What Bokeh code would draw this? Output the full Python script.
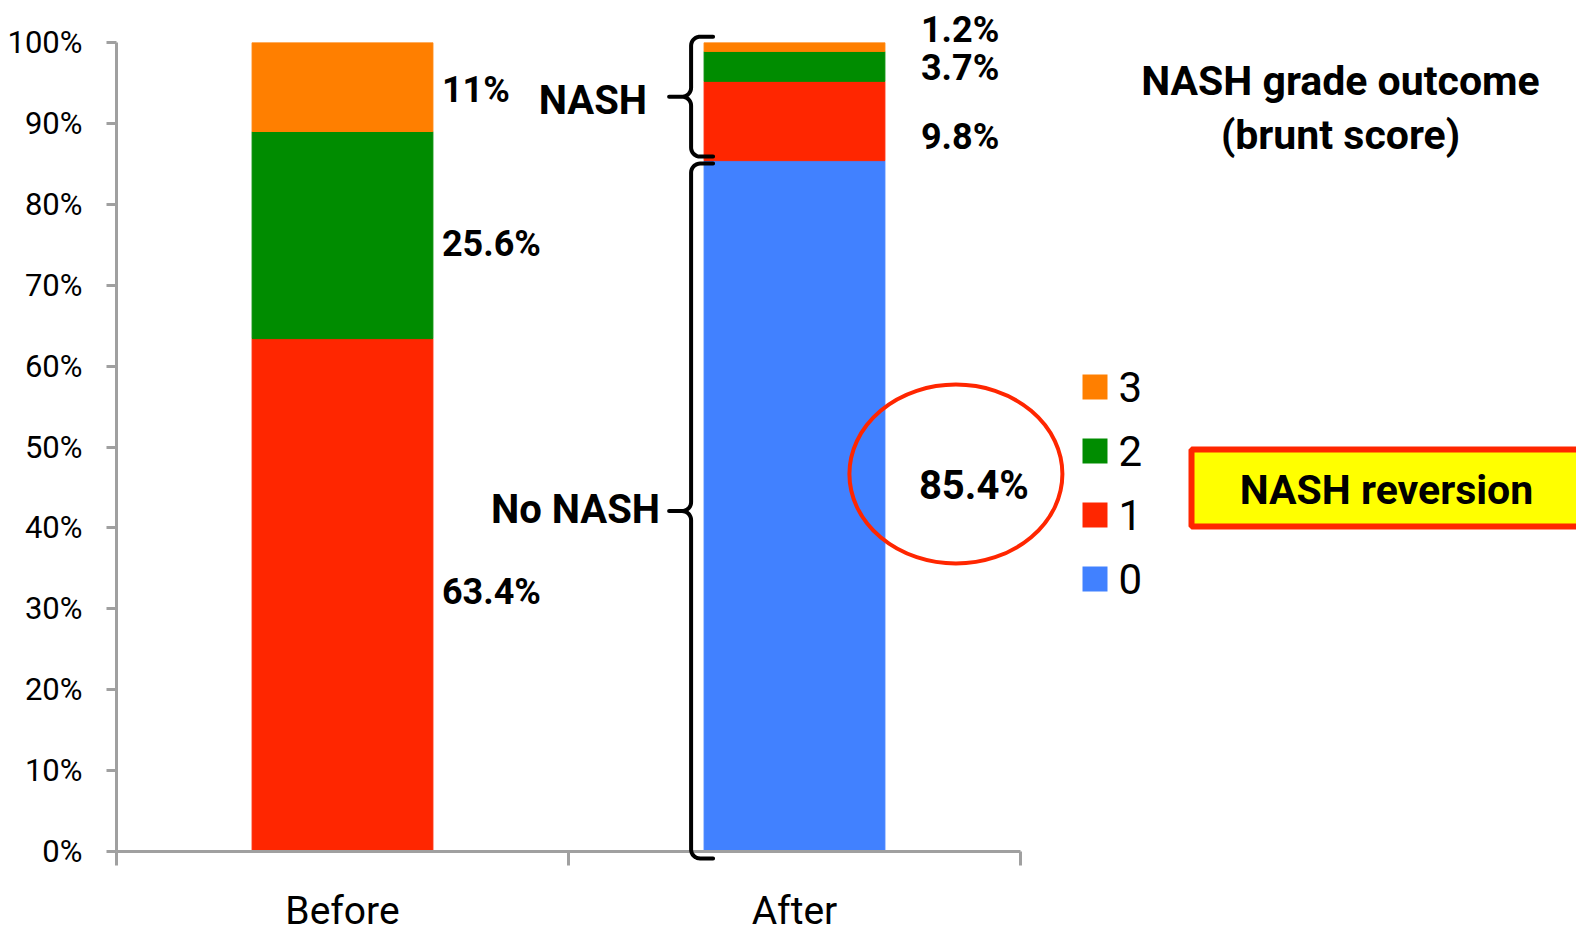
import numpy as np
from bokeh.plotting import figure
from bokeh.models import ColumnDataSource, Range1d, FixedTicker, PrintfTickFormatter
from bokeh.core.properties import value
from bokeh.embed import file_html
from bokeh.resources import INLINE

# ---- data -------------------------------------------------------------
categories = ["Before", "After"]
grade_names = ["0", "1", "2", "3"]
grade_0 = [0.0, 85.4]
grade_1 = [63.4, 9.8]
grade_2 = [25.6, 3.7]
grade_3 = [11.0, 1.2]
y_tick_values = [0, 10, 20, 30, 40, 50, 60, 70, 80, 90, 100]

title_lines = ["NASH grade outcome", "(brunt score)"]
callout_text = "NASH reversion"

# ---- styling ----------------------------------------------------------
grade_colors = ["#4181FF", "#FF2600", "#008C00", "#FF7F00"]
AXIS_GREY = "#A0A0A0"
FONT = "Roboto"

FRAME_LEFT, FRAME_TOP = 116, 42
FRAME_W, FRAME_H = 904, 809
CANVAS_W, CANVAS_H = 1576, 938
FRAME_BOTTOM = FRAME_TOP + FRAME_H
X_START, X_END = -0.5, len(categories) - 0.5
Y_START, Y_END = 0, 100
BAR_WIDTH = 0.4


def to_data_x(px):
    return X_START + (px - FRAME_LEFT) * (X_END - X_START) / FRAME_W


def to_data_y(py):
    return Y_START + (FRAME_BOTTOM - py) * (Y_END - Y_START) / FRAME_H


def to_px_x(x):
    return FRAME_LEFT + (x - X_START) * FRAME_W / (X_END - X_START)


def to_px_y(y):
    return FRAME_BOTTOM - (y - Y_START) * FRAME_H / (Y_END - Y_START)


p = figure(frame_width=FRAME_W, frame_height=FRAME_H,
           min_border_left=FRAME_LEFT, min_border_top=FRAME_TOP,
           min_border_right=CANVAS_W - FRAME_LEFT - FRAME_W,
           min_border_bottom=CANVAS_H - FRAME_BOTTOM,
           x_range=Range1d(X_START, X_END), y_range=Range1d(Y_START, Y_END),
           output_backend="svg", toolbar_location=None,
           outline_line_color=None, background_fill_color="white",
           border_fill_color="white")
p.xgrid.visible = False
p.ygrid.visible = False

# ---- stacked bars -----------------------------------------------------
x_pos = list(range(len(categories)))
src = ColumnDataSource(dict(x=x_pos, **{"0": grade_0, "1": grade_1,
                                        "2": grade_2, "3": grade_3}))
bar_renderers = p.vbar_stack(grade_names, x="x", width=BAR_WIDTH,
                             color=grade_colors, source=src)

# ---- axes -------------------------------------------------------------
xa = p.xaxis[0]
xa.ticker = FixedTicker(ticks=x_pos,
                        minor_ticks=[i - 0.5 for i in range(len(categories) + 1)])
xa.major_label_overrides = {i: c for i, c in enumerate(categories)}
xa.axis_line_color = AXIS_GREY
xa.axis_line_width = 3
xa.major_tick_line_color = None
xa.major_tick_out = 14
xa.major_tick_in = 0
xa.minor_tick_line_color = AXIS_GREY
xa.minor_tick_line_width = 3
xa.minor_tick_out = 14
xa.minor_tick_in = 0
xa.major_label_text_font = FONT
xa.major_label_text_font_size = "39px"
xa.major_label_text_color = "black"
xa.major_label_standoff = 22

ya = p.yaxis[0]
ya.ticker = FixedTicker(ticks=y_tick_values, minor_ticks=[])
ya.formatter = PrintfTickFormatter(format="%d%%")
ya.axis_line_color = AXIS_GREY
ya.axis_line_width = 3
ya.major_tick_line_color = AXIS_GREY
ya.major_tick_line_width = 3
ya.major_tick_out = 10
ya.major_tick_in = 0
ya.minor_tick_line_color = None
ya.major_label_text_font = FONT
ya.major_label_text_font_size = "31px"
ya.major_label_text_color = "black"
ya.major_label_standoff = 24

# ---- value labels -----------------------------------------------------
stack = np.array([grade_0, grade_1, grade_2, grade_3])
tops = np.cumsum(stack, axis=0)
bottoms = tops - stack
mids = (tops + bottoms) / 2

label_gap_px = [9, 36]                      # gap between bar edge and label
label_shift_px = {(0, 1): -3, (0, 2): 9, (0, 3): 3,
                  (1, 1): 16, (1, 2): 2, (1, 3): -17}

lx, ly, lt, loff = [], [], [], []
for ci in range(len(categories)):
    for gi in range(1, len(grade_names)):
        v = stack[gi, ci]
        if v <= 0:
            continue
        lx.append(to_data_x(to_px_x(ci + BAR_WIDTH / 2) + label_gap_px[ci]))
        ly.append(mids[gi, ci])
        lt.append(f"{v:g}%")
        loff.append(label_shift_px[(ci, gi)])
p.text(x=lx, y=ly, text=lt, y_offset=loff, text_font=value(FONT),
       text_font_size="36px", text_font_style="bold", text_color="black",
       text_align="left", text_baseline="middle", level="overlay")

# highlighted "no NASH" share for the After bar
after = categories.index("After")
big_x_px = to_px_x(after + BAR_WIDTH / 2) + 34
big_y_px = to_px_y(mids[0, after]) - 21
p.text(x=[to_data_x(big_x_px)], y=[to_data_y(big_y_px)],
       text=[f"{stack[0, after]:g}%"], text_font=value(FONT),
       text_font_size="40px", text_font_style="bold", text_color="black",
       text_align="left", text_baseline="middle", level="overlay")
p.ellipse(x=[to_data_x(big_x_px + 37)], y=[to_data_y(big_y_px - 11)],
          width=[213], height=[179], width_units="screen",
          height_units="screen", fill_color=None, line_color="#FF2600",
          line_width=4, level="overlay")


# ---- curly braces -----------------------------------------------------
def brace_path(spine, top, bottom, hook_end, tip_len=22, r=9, n=10):
    mid = (top + bottom) / 2
    pts = [(hook_end, top)]

    def arc(cx, cy, a0, a1):
        t = np.radians(np.linspace(a0, a1, n))
        return list(zip(cx + r * np.cos(t), cy + r * np.sin(t)))

    pts += arc(spine + r, top + r, -90, -180)
    pts += arc(spine - r, mid - r, 0, 90)
    pts += [(spine - tip_len, mid)]
    pts += arc(spine - r, mid + r, -90, 0)
    pts += arc(spine + r, bottom - r, 180, 90)
    pts += [(hook_end, bottom)]
    return ([to_data_x(a) for a, _ in pts], [to_data_y(b) for _, b in pts],
            spine - tip_len, mid)


bar_left_px = to_px_x(after - BAR_WIDTH / 2)
spine_px = bar_left_px - 13
hook_px = bar_left_px + 9

brace_specs = [
    # label, span bottom value, span top value, pad bottom, pad top, label gap, label shift
    ("NASH", tops[0, after], tops[3, after], 4, 5, 22, 4),
    ("No NASH", 0.0, tops[0, after], -7, -3, 9, -2),
]
for name, v0, v1, pad_b, pad_t, gap, shift in brace_specs:
    bx, by, tip_x, mid_y = brace_path(spine_px, to_px_y(v1) - pad_t,
                                      to_px_y(v0) - pad_b, hook_px)
    p.line(bx, by, line_width=4, line_color="black", line_join="round",
           line_cap="round", level="overlay")
    p.text(x=[to_data_x(tip_x - gap)], y=[to_data_y(mid_y + shift)], text=[name],
           text_font=value(FONT), text_font_size="40px", text_font_style="bold",
           text_color="black", text_align="right", text_baseline="middle",
           level="overlay")

# ---- title ------------------------------------------------------------
p.text(x=[to_data_x(1340)] * 2, y=[to_data_y(80), to_data_y(134)],
       text=title_lines, text_font=value(FONT), text_font_size="41px",
       text_font_style="bold", text_color="black", text_align="center",
       text_baseline="middle", level="overlay")

# ---- callout box ------------------------------------------------------
p.quad(left=[to_data_x(1191)], right=[to_data_x(1620)],
       top=[to_data_y(449)], bottom=[to_data_y(526)],
       fill_color="#FFFF00", line_color="#FF2600", line_width=6,
       level="overlay")
p.text(x=[to_data_x(1386)], y=[to_data_y(489)], text=[callout_text],
       text_font=value(FONT), text_font_size="41px", text_font_style="bold",
       text_color="black", text_align="center", text_baseline="middle",
       level="overlay")

# ---- legend (top entry = highest grade) ------------------------------
legend_order = list(range(len(grade_names)))[::-1]
leg_y = [to_data_y(386.5 + 64 * k) for k in range(len(legend_order))]
p.rect(x=[to_data_x(1094.5)] * len(legend_order), y=leg_y,
       width=25, height=25, width_units="screen", height_units="screen",
       fill_color=[grade_colors[i] for i in legend_order], line_color=None,
       level="overlay")
p.text(x=[to_data_x(1118)] * len(legend_order), y=leg_y,
       text=[grade_names[i] for i in legend_order], text_font=value(FONT),
       text_font_size="42px", text_color="black", text_align="left",
       text_baseline="middle", level="overlay")

open("out.html", "w").write(file_html(p, INLINE))
